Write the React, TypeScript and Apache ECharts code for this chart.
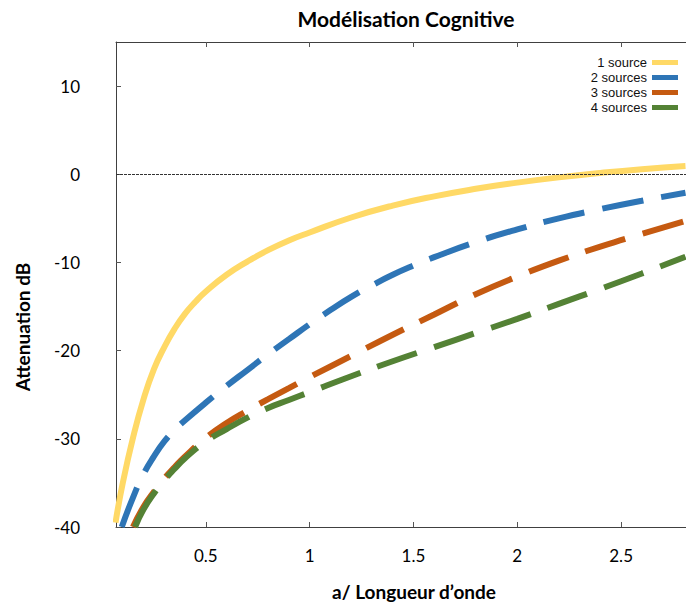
import React, { useEffect, useRef } from "react";
import * as echarts from "echarts";

const TITLE = "Modélisation Cognitive";
const X_NAME = "a/ Longueur d’onde";
const Y_NAME = "Attenuation dB";
const SERIES_NAMES = ["1 source", "2 sources", "3 sources", "4 sources"];
const X_TICKS = [0.5, 1, 1.5, 2, 2.5];
const Y_TICKS = [-40, -30, -20, -10, 0, 10];

const X1 = [0.065, 0.1, 0.15, 0.2, 0.25, 0.3, 0.35, 0.4, 0.45, 0.5, 0.6, 0.7, 0.8, 0.9, 1.0, 1.2, 1.4, 1.6, 1.8, 2.0, 2.2, 2.4, 2.6, 2.81];
const Y1 = [-39.5, -35.0, -29.8, -25.5, -22.1, -19.6, -17.5, -15.8, -14.45, -13.3, -11.4, -9.9, -8.6, -7.5, -6.6, -4.9, -3.55, -2.5, -1.65, -0.95, -0.35, 0.15, 0.58, 0.95];

const X2 = [0.095, 0.15, 0.2, 0.25, 0.3, 0.35, 0.4, 0.5, 0.6, 0.7, 0.8, 0.9, 1.0, 1.1, 1.2, 1.3, 1.4, 1.5, 1.6, 1.8, 2.0, 2.2, 2.4, 2.6, 2.81];
const Y2 = [-40, -36.6, -34.0, -32.0, -30.3, -29.0, -27.9, -25.9, -24.0, -22.2, -20.4, -18.7, -17.0, -15.4, -13.9, -12.6, -11.4, -10.35, -9.4, -7.7, -6.25, -5.0, -3.95, -3.0, -2.1];

const X3 = [0.149, 0.2, 0.25, 0.3, 0.35, 0.4, 0.5, 0.6, 0.7, 0.8, 0.9, 1.0, 1.2, 1.4, 1.6, 1.8, 2.0, 2.2, 2.4, 2.6, 2.81];
const Y3 = [-40, -37.7, -36.0, -34.5, -33.2, -32.0, -29.9, -28.2, -26.8, -25.5, -24.25, -23.0, -20.6, -18.2, -15.9, -13.6, -11.6, -9.8, -8.2, -6.75, -5.3];

const X4 = [0.159, 0.2, 0.25, 0.3, 0.35, 0.4, 0.5, 0.6, 0.7, 0.8, 0.9, 1.0, 1.2, 1.4, 1.6, 1.8, 2.0, 2.2, 2.4, 2.6, 2.81];
const Y4 = [-40, -38.0, -36.2, -34.7, -33.4, -32.2, -30.3, -28.9, -27.6, -26.5, -25.6, -24.7, -22.9, -21.2, -19.6, -18.0, -16.4, -14.7, -13.0, -11.25, -9.35];

const COLORS = ["#FFD966", "#2E75B6", "#C55A11", "#548235"];
const FONT = "Lato";

const zip = (xs: number[], ys: number[]) => xs.map((x, i) => [x, ys[i]]);

export default function App() {
  const ref = useRef<HTMLDivElement>(null);
  useEffect(() => {
    if (!ref.current) return;
    const chart = echarts.init(ref.current, null, { renderer: "svg" });
    const datas = [zip(X1, Y1), zip(X2, Y2), zip(X3, Y3), zip(X4, Y4)];
    const axisLineStyle = { color: "#404040", width: 1 };
    const lineSeries = datas.map((d, i) => ({
      name: SERIES_NAMES[i],
      type: "line",
      data: d,
      smooth: 0.5,
      showSymbol: false,
      symbol: "none",
      z: 3,
      clip: true,
      lineStyle: {
        color: COLORS[i],
        width: 6,
        type: i === 0 ? "solid" : [42, 18],
        cap: "butt",
      },
      itemStyle: { color: COLORS[i] },
    }));
    chart.setOption({
      animation: false,
      textStyle: { fontFamily: FONT },
      grid: { left: 116, right: 0, top: 42, bottom: 76 },
      legend: {
        data: SERIES_NAMES,
        orient: "vertical",
        right: 3,
        top: 50,
        align: "right",
        icon: "rect",
        itemWidth: 26,
        itemHeight: 5,
        itemGap: 0,
        textStyle: {
          fontFamily: "Liberation Sans",
          fontSize: 13,
          color: "#111",
          lineHeight: 15,
        },
      },
      xAxis: [
        {
          type: "value",
          min: 0.0673,
          max: 2.8125,
          position: "bottom",
          axisLine: { show: true, onZero: false, lineStyle: axisLineStyle },
          axisTick: { show: true, inside: true, length: 5, customValues: X_TICKS, lineStyle: { color: "#555" } },
          axisLabel: {
            show: true,
            customValues: X_TICKS,
            margin: 20,
            fontSize: 17,
            color: "#000",
            fontFamily: FONT,
            formatter: (v: number) => String(v),
          },
          splitLine: { show: false },
        },
        {
          type: "value",
          min: 0.0673,
          max: 2.8125,
          position: "top",
          axisLine: { show: true, onZero: false, lineStyle: axisLineStyle },
          axisTick: { show: true, inside: true, length: 5, customValues: X_TICKS, lineStyle: { color: "#555" } },
          axisLabel: { show: false },
          splitLine: { show: false },
        },
      ],
      yAxis: {
        type: "value",
        min: -40,
        max: 15,
        interval: 10,
        axisLine: { show: true, onZero: false, lineStyle: axisLineStyle },
        axisTick: { show: true, inside: true, length: 5, customValues: Y_TICKS, lineStyle: { color: "#555" } },
        axisLabel: {
          customValues: Y_TICKS,
          margin: 36,
          fontSize: 17,
          color: "#000",
          fontFamily: FONT,
        },
        splitLine: { show: false },
      },
      graphic: [
        {
          type: "text",
          x: 406,
          y: 18,
          style: {
            text: TITLE,
            fontFamily: FONT,
            fontWeight: "bold",
            fontSize: 21,
            fill: "#000",
            textAlign: "center",
            textVerticalAlign: "middle",
          },
        },
        {
          type: "text",
          x: 414,
          y: 591,
          style: {
            text: X_NAME,
            fontFamily: FONT,
            fontWeight: "bold",
            fontSize: 19,
            fill: "#000",
            textAlign: "center",
            textVerticalAlign: "middle",
          },
        },
        {
          type: "text",
          x: 22,
          y: 327,
          rotation: Math.PI / 2,
          style: {
            text: Y_NAME,
            fontFamily: FONT,
            fontWeight: "bold",
            fontSize: 19,
            fill: "#000",
            textAlign: "center",
            textVerticalAlign: "middle",
          },
        },
      ],
      series: [
        {
          name: "zero",
          type: "line",
          data: [],
          z: 1,
          markLine: {
            silent: true,
            symbol: "none",
            label: { show: false },
            lineStyle: { color: "#333", width: 1, type: [3, 1] },
            data: [{ yAxis: 0 }],
          },
        },
        ...lineSeries,
      ],
    });
    return () => chart.dispose();
  }, []);
  return (
    <div
      ref={ref}
      style={{ position: "fixed", left: 0, top: 0, width: 686, height: 603, background: "#fff" }}
    />
  );
}
